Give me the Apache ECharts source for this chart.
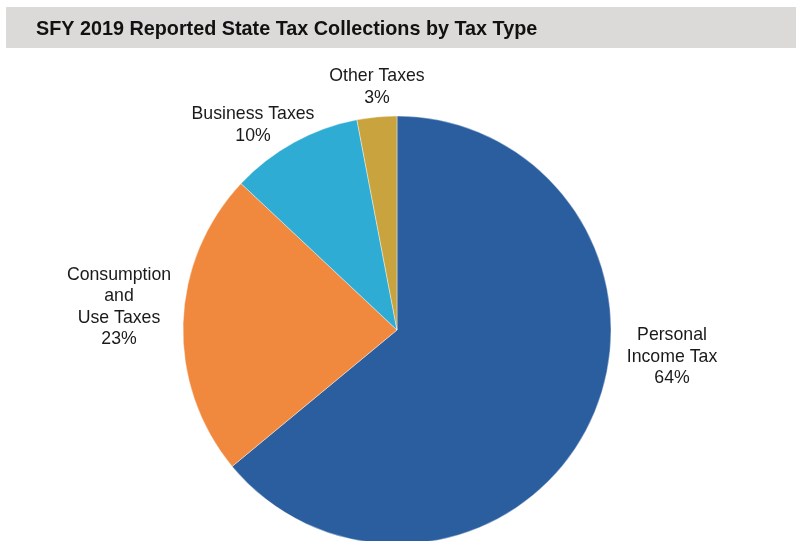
<!DOCTYPE html>
<html>
<head>
<meta charset="utf-8">
<script src="https://cdn.jsdelivr.net/npm/echarts@6/dist/echarts.min.js"></script>
<style>
  html, body { margin: 0; padding: 0; background: #ffffff; }
  #chart { width: 796px; height: 541px; }
</style>
</head>
<body>
<div id="chart"></div>
<script>
// Tax types and their share of SFY 2019 collections (percent)
const categories = ['Personal\nIncome Tax', 'Consumption\nand\nUse Taxes', 'Business Taxes', 'Other Taxes'];
const shares = [64, 23, 10, 3];
const colors = ['#2B5E9F', '#F0883E', '#2EACD4', '#C9A33E'];

// Label anchor offsets from the pie centre, per slice
const labelOffsets = [[275, 27], [-278, -23], [-144, -205], [-20, -243]];

const cx = 397, cy = 330, r = 214;

const chart = echarts.init(document.getElementById('chart'), null, { renderer: 'canvas' });

chart.setOption({
  backgroundColor: '#ffffff',
  animation: false,
  graphic: [{
    type: 'rect',
    shape: { x: 6, y: 7, width: 800, height: 41 },
    style: { fill: '#DBDAD8' },
    z: 0
  }],
  title: {
    text: 'SFY 2019 Reported State Tax Collections by Tax Type',
    left: 36,
    top: 20,
    padding: 0,
    textStyle: {
      fontFamily: 'Liberation Sans, Arial, sans-serif',
      fontWeight: 'bold',
      fontSize: 19.8,
      color: '#111111'
    }
  },
  series: [{
    type: 'pie',
    center: [cx, cy],
    radius: r,
    startAngle: 90,
    clockwise: true,
    label: {
      show: true,
      position: 'outside',
      formatter: p => p.name + '\n' + p.value + '%',
      fontFamily: 'Liberation Sans, Arial, sans-serif',
      fontSize: 17.7,
      lineHeight: 21.5,
      color: '#1a1a1a',
      align: 'center'
    },
    labelLine: { show: false },
    labelLayout: p => {
      const o = labelOffsets[p.dataIndex];
      return { x: cx + o[0], y: cy + o[1], align: 'center', verticalAlign: 'middle' };
    },
    itemStyle: { borderColor: '#ffffff', borderWidth: 0.4 },
    emphasis: { disabled: true },
    data: categories.map((name, i) => ({
      name: name,
      value: shares[i],
      itemStyle: { color: colors[i] }
    }))
  }]
});
</script>
</body>
</html>
